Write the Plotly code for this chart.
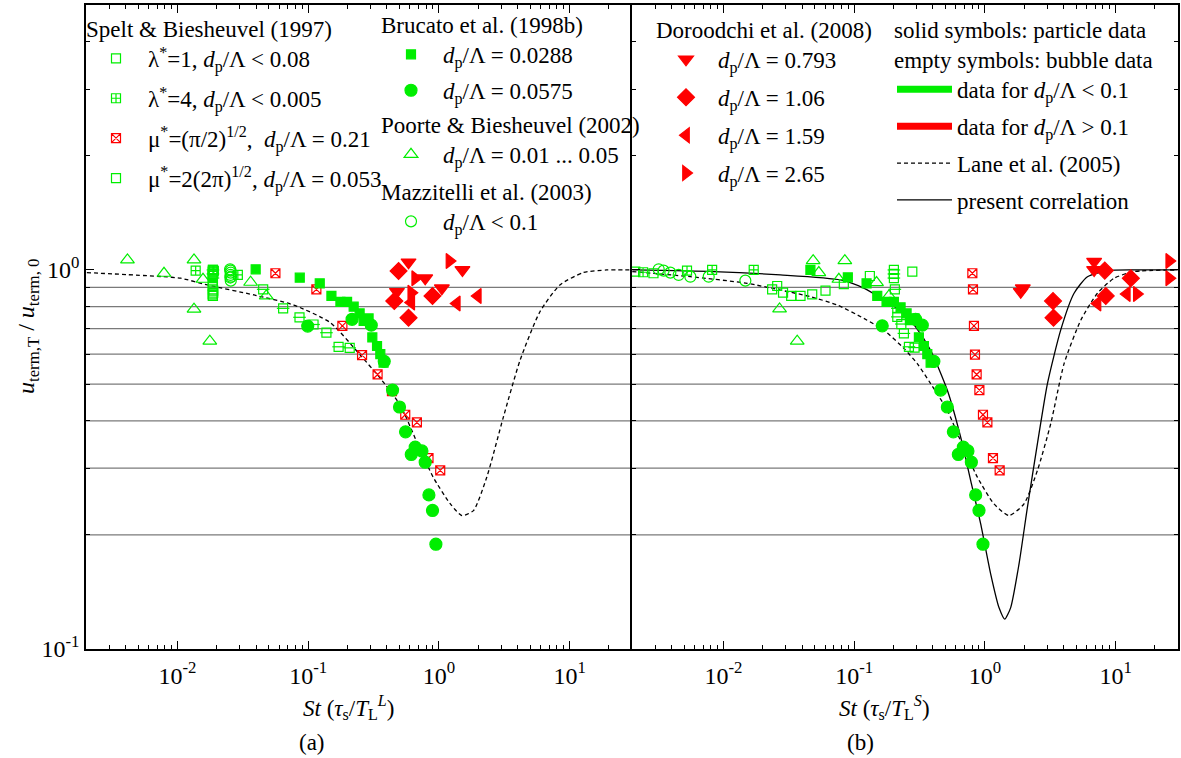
import math
import plotly.graph_objects as go

FONT = "Liberation Serif"
GREEN = "#00ee00"
RED = "#ff0000"

# ---------------- data : panel (a), St = tau_s / T_L^L ----------------
spelt_lam1_a_st = [0.0186, 0.0188, 0.0187, 0.0186, 0.0188, 0.0187, 0.0187, 0.0186, 0.0188, 0.0187, 0.0186, 0.0188]
spelt_lam1_a_u = [0.990, 0.980, 0.889, 0.907, 0.871, 0.854, 0.854, 0.862, 0.882, 0.918, 0.964, 0.990]
spelt_lam4_a_st = [0.0138, 0.0187, 0.0190, 0.0290]
spelt_lam4_a_u = [0.996, 1.000, 0.995, 0.970]
spelt_mu1_a_st = [0.0562, 0.1156, 0.1828, 0.2585, 0.3398, 0.4377, 0.553, 0.679, 0.833, 1.024]
spelt_mu1_a_u = [0.980, 0.889, 0.712, 0.596, 0.530, 0.479, 0.415, 0.396, 0.319, 0.296]
spelt_mu2_a_st = [0.0187, 0.0187, 0.0187, 0.0453, 0.0644, 0.0859, 0.110, 0.138, 0.171, 0.208]
spelt_mu2_a_u = [1.000, 0.976, 0.952, 0.889, 0.792, 0.750, 0.718, 0.683, 0.627, 0.623]
brucato1_a_st = [0.0397, 0.0863, 0.1227, 0.1507, 0.1766, 0.1986, 0.2230, 0.2477, 0.2657, 0.290, 0.3097, 0.3365, 0.3565, 0.3776]
brucato1_a_u = [1.004, 0.954, 0.922, 0.854, 0.824, 0.824, 0.800, 0.768, 0.734, 0.745, 0.664, 0.630, 0.600, 0.569]
brucato2_a_st = [0.0993, 0.2168, 0.304, 0.382, 0.4424, 0.500, 0.556, 0.659, 0.615, 0.742, 0.786, 0.839, 0.894, 0.949]
brucato2_a_u = [0.711, 0.741, 0.715, 0.574, 0.482, 0.435, 0.374, 0.341, 0.326, 0.333, 0.311, 0.255, 0.232, 0.189]
poorte_a_st = [0.00415, 0.0134, 0.0079, 0.0157, 0.0363, 0.0478, 0.0134, 0.0177]
poorte_a_u = [1.063, 1.063, 0.980, 0.945, 0.928, 0.854, 0.788, 0.649]
mazz_a_st = [0.0253, 0.0255, 0.0256, 0.0255, 0.0257, 0.0254, 0.0256]
mazz_a_u = [1.004, 0.996, 0.984, 0.970, 0.960, 0.955, 0.937]
dor1_a_st = [0.586, 0.478, 1.514, 1.054, 0.786]
dor1_a_u = [1.048, 0.876, 1.000, 0.895, 0.951]
dor2_a_st = [0.492, 0.456, 0.894, 0.586]
dor2_a_u = [0.994, 0.828, 0.854, 0.748]
dor3_a_st = [0.615, 1.371, 1.985]
dor3_a_u = [0.820, 0.816, 0.854]
dor4_a_st = [0.659, 0.615, 1.205]
dor4_a_u = [0.951, 0.871, 1.056]
lane_a_st = [0.00203, 0.00786, 0.0106, 0.01695, 0.0385, 0.0777, 0.148, 0.2506, 0.356, 0.507, 0.679, 0.905,
             1.220, 1.50, 1.837, 2.324, 3.113, 4.18, 5.93, 8.43, 12.7, 19.2, 29.7]
lane_a_u = [0.984, 0.960, 0.951, 0.913, 0.859, 0.808, 0.726, 0.596, 0.518, 0.4395, 0.3514, 0.2839,
            0.2418, 0.2249, 0.2318, 0.2839, 0.409, 0.578, 0.776, 0.913, 0.984, 1.0, 1.0]

# ---------------- data : panel (b), St = tau_s / T_L^S ----------------
spelt_lam1_b_st = [0.00212, 0.00292, 0.0236, 0.0258, 0.0286, 0.033, 0.0389, 0.0478, 0.0604, 0.0834, 0.1319, 0.2786]
spelt_lam1_b_u = [0.990, 0.980, 0.889, 0.907, 0.871, 0.854, 0.854, 0.862, 0.882, 0.918, 0.964, 0.990]
spelt_lam4_b_st = [0.00243, 0.00527, 0.0082, 0.01706]
spelt_lam4_b_u = [0.986, 0.996, 1.000, 1.000]
spelt_mu1_b_st = [0.802, 0.811, 0.825, 0.840, 0.865, 0.908, 0.967, 1.045, 1.153, 1.298]
spelt_mu1_b_u = [0.980, 0.889, 0.712, 0.598, 0.530, 0.482, 0.415, 0.396, 0.319, 0.296]
spelt_mu2_b_st = [0.2014, 0.2014, 0.2014, 0.2049, 0.2138, 0.2138, 0.2296, 0.2402, 0.2625, 0.290]
spelt_mu2_b_u = [1.000, 0.976, 0.952, 0.889, 0.792, 0.752, 0.720, 0.680, 0.627, 0.624]
brucato1_b_st = [0.0463, 0.0895, 0.1245, 0.1503, 0.177, 0.2014, 0.2266, 0.2519, 0.267, 0.290, 0.3129, 0.3418, 0.3628, 0.3846]
brucato1_b_u = [1.000, 0.956, 0.922, 0.854, 0.824, 0.824, 0.797, 0.768, 0.737, 0.745, 0.664, 0.630, 0.600, 0.569]
brucato2_b_st = [0.164, 0.295, 0.3322, 0.4074, 0.4587, 0.5164, 0.574, 0.6844, 0.6267, 0.7423, 0.788, 0.8502, 0.9015, 0.967]
brucato2_b_u = [0.712, 0.741, 0.715, 0.574, 0.482, 0.435, 0.374, 0.341, 0.326, 0.333, 0.311, 0.255, 0.232, 0.189]
poorte_b_st = [0.0486, 0.0537, 0.0849, 0.0764, 0.1484, 0.1845, 0.0269, 0.0367]
poorte_b_u = [1.058, 0.984, 1.058, 0.945, 0.926, 0.854, 0.789, 0.649]
mazz_b_st = [0.0032, 0.00349, 0.00393, 0.00455, 0.00559, 0.00772, 0.01472]
mazz_b_u = [1.004, 0.996, 0.984, 0.970, 0.960, 0.960, 0.937]
dor1_b_st = [1.88, 1.95, 6.85, 6.85]
dor1_b_u = [0.876, 0.895, 1.052, 1.000]
dor2_b_st = [3.32, 3.35, 8.26, 8.41, 13.07]
dor2_b_u = [0.828, 0.748, 0.996, 0.854, 0.951]
dor3_b_st = [7.27, 12.18]
dor3_b_u = [0.816, 0.864]
dor4_b_st = [25.7, 25.7, 14.53]
dor4_b_u = [1.056, 0.951, 0.864]
lane_b_st = [0.00201, 0.00559, 0.01517, 0.0273, 0.0463, 0.0743, 0.1187, 0.1687, 0.2403, 0.304, 0.3846, 0.5164,
             0.634, 0.876, 1.174, 1.530, 1.993, 2.523, 3.19, 4.035, 5.414, 7.26, 9.74, 13.86, 29.8]
lane_b_u = [0.990, 0.960, 0.922, 0.885, 0.850, 0.808, 0.745, 0.694, 0.621, 0.566, 0.5015, 0.426,
            0.362, 0.284, 0.2415, 0.2249, 0.2415, 0.2958, 0.393, 0.566, 0.737, 0.868, 0.951, 0.990, 1.0]
correl_b_st = [0.00201, 0.00843, 0.0273, 0.0787, 0.1187, 0.1687, 0.2403, 0.2952, 0.3846, 0.5164, 0.6529, 0.779,
               0.929, 1.108, 1.282, 1.418, 1.576, 1.824, 2.115, 2.523, 3.01, 3.80, 4.81, 6.09, 8.67, 13.86, 29.8]
correl_b_u = [1.0, 0.990, 0.970, 0.941, 0.895, 0.833, 0.768, 0.708, 0.614, 0.4815, 0.3622, 0.278,
              0.2138, 0.1576, 0.1286, 0.1199, 0.1286, 0.1675, 0.2365, 0.348, 0.5015, 0.694, 0.868, 0.960, 0.996, 1.0, 1.0]

grid_levels = [0.2, 0.3, 0.4, 0.5, 0.6, 0.7, 0.8, 0.9]
x_tickvals = [0.01, 0.1, 1, 10]
x_ticktext = ["10<sup>-2</sup>", "10<sup>-1</sup>", "10<sup>0</sup>", "10<sup>1</sup>"]
y_tickvals = [0.1, 1]
y_ticktext = ["10<sup>-1</sup>", "10<sup>0</sup>"]

DP = "<i>d</i><sub>p</sub>/Λ"

fig = go.Figure()


def curve(x, y, xa, ya, dash, name=None, legend=None, show=False, group=None, rank=1000):
    fig.add_trace(go.Scatter(x=x, y=y, xaxis=xa, yaxis=ya, mode="lines",
                             line=dict(color="black", width=1.3, dash=dash, shape="spline", smoothing=0.6),
                             name=name, legend=legend, legendgroup=group, showlegend=show,
                             legendrank=rank))


def pts(x, y, xa, ya, symbol, size, color, name=None, legend=None, group=None, show=False, lw=1.2):
    fig.add_trace(go.Scatter(x=x, y=y, xaxis=xa, yaxis=ya, mode="markers",
                             marker=dict(symbol=symbol, size=size, color=color,
                                         line=dict(color=color, width=lw)),
                             name=name, legend=legend, legendgroup=group, showlegend=show))


# model curves
curve(lane_a_st, lane_a_u, "x", "y", "4px,3px", "Lane et al. (2005)", "legend6", True, "lane", 3)
curve(lane_b_st, lane_b_u, "x2", "y2", "4px,3px", group="lane")
curve(correl_b_st, correl_b_u, "x2", "y2", "solid", "present correlation", "legend6", True, "corr", 4)

# legend-only colour keys
fig.add_trace(go.Scatter(x=[None], y=[None], mode="lines", line=dict(color=GREEN, width=7),
                         name="data for " + DP + " &lt; 0.1", legend="legend6", legendgroup="g1",
                         legendrank=1))
fig.add_trace(go.Scatter(x=[None], y=[None], mode="lines", line=dict(color=RED, width=7),
                         name="data for " + DP + " &gt; 0.1", legend="legend6", legendgroup="g2",
                         legendrank=2))

panels = [("x", "y", True), ("x2", "y2", False)]
datasets = [
    (spelt_lam1_a_st, spelt_lam1_a_u, spelt_lam1_b_st, spelt_lam1_b_u, "square-open", 9, GREEN,
     "λ<sup>*</sup>=1, " + DP + " &lt; 0.08", "legend", "s1"),
    (spelt_lam4_a_st, spelt_lam4_a_u, spelt_lam4_b_st, spelt_lam4_b_u, "square-cross-open", 9, GREEN,
     "λ<sup>*</sup>=4, " + DP + " &lt; 0.005", "legend", "s2"),
    (spelt_mu1_a_st, spelt_mu1_a_u, spelt_mu1_b_st, spelt_mu1_b_u, "square-x-open", 9, RED,
     "μ<sup>*</sup>=(π/2)<sup>1/2</sup>,  " + DP + " = 0.21", "legend", "s3"),
    (spelt_mu2_a_st, spelt_mu2_a_u, spelt_mu2_b_st, spelt_mu2_b_u, "square-open", 9, GREEN,
     "μ<sup>*</sup>=2(2π)<sup>1/2</sup>, " + DP + " = 0.053", "legend", "s4"),
    (brucato1_a_st, brucato1_a_u, brucato1_b_st, brucato1_b_u, "square", 9, GREEN,
     DP + " = 0.0288", "legend2", "b1"),
    (brucato2_a_st, brucato2_a_u, brucato2_b_st, brucato2_b_u, "circle", 12, GREEN,
     DP + " = 0.0575", "legend2", "b2"),
    (poorte_a_st, poorte_a_u, poorte_b_st, poorte_b_u, "triangle-up-open", 12, GREEN,
     DP + " = 0.01 ... 0.05", "legend3", "p1"),
    (mazz_a_st, mazz_a_u, mazz_b_st, mazz_b_u, "circle-open", 11, GREEN,
     DP + " &lt; 0.1", "legend4", "m1"),
    (dor1_a_st, dor1_a_u, dor1_b_st, dor1_b_u, "triangle-down", 13, RED,
     DP + " = 0.793", "legend5", "d1"),
    (dor2_a_st, dor2_a_u, dor2_b_st, dor2_b_u, "diamond", 13, RED,
     DP + " = 1.06", "legend5", "d2"),
    (dor3_a_st, dor3_a_u, dor3_b_st, dor3_b_u, "triangle-left", 13, RED,
     DP + " = 1.59", "legend5", "d3"),
    (dor4_a_st, dor4_a_u, dor4_b_st, dor4_b_u, "triangle-right", 13, RED,
     DP + " = 2.65", "legend5", "d4"),
]
for ax_, ay_, bx_, by_, sym, size, col, name, leg, grp in datasets:
    for (xa, ya, first), (xs, ys) in zip(panels, [(ax_, ay_), (bx_, by_)]):
        pts(xs, ys, xa, ya, sym, size, col, name, leg, grp, first)
        if grp == "s4":  # horizontal bar inside the square
            pts(xs, ys, xa, ya, "line-ew", 9, col, None, leg, grp, False)

# horizontal reference lines
shapes = []
for lev in grid_levels:
    for xr, yr in [("x domain", "y"), ("x2 domain", "y2")]:
        shapes.append(dict(type="line", xref=xr, yref=yr, x0=0, x1=1, y0=lev, y1=lev,
                           line=dict(color="#7a7a7a", width=1.3), layer="below"))

W, H = 1181, 758
xa_dom = [86 / W, 632 / W]
xb_dom = [632 / W, 1178 / W]
y_dom = [1 - 649 / H, 1 - 5 / H]

axis_common = dict(type="log", showline=True, linecolor="black", linewidth=1.5, mirror="ticks",
                   ticks="inside", ticklen=8, tickwidth=1.2, tickcolor="black", showgrid=False,
                   zeroline=False, tickfont=dict(family=FONT, size=24, color="black"),
                   minor=dict(dtick="D1", ticks="inside", ticklen=4, tickwidth=1, tickcolor="black",
                              showgrid=False),
                   automargin=False)

fig.update_layout(
    width=W, height=H, margin=dict(l=0, r=0, t=0, b=0),
    paper_bgcolor="white", plot_bgcolor="white",
    font=dict(family=FONT, size=23, color="black"),
    shapes=shapes,
    xaxis=dict(axis_common, domain=xa_dom, anchor="y", range=[math.log10(0.002), math.log10(30)],
               tickmode="array", tickvals=x_tickvals, ticktext=x_ticktext, ticklabelstandoff=4),
    xaxis2=dict(axis_common, domain=xb_dom, anchor="y2", range=[math.log10(0.002), math.log10(30)],
                tickmode="array", tickvals=x_tickvals, ticktext=x_ticktext, ticklabelstandoff=4),
    yaxis=dict(axis_common, domain=y_dom, anchor="x", range=[-1, math.log10(5)], mirror=False,
               tickmode="array", tickvals=y_tickvals, ticktext=y_ticktext),
    yaxis2=dict(axis_common, domain=y_dom, anchor="x2", range=[-1, math.log10(5)],
                tickmode="array", tickvals=y_tickvals, ticktext=y_ticktext, showticklabels=False),
    showlegend=True,
)

leg_common = dict(bgcolor="rgba(0,0,0,0)", borderwidth=0, xanchor="left", yanchor="top",
                  font=dict(family=FONT, size=23, color="black"), itemwidth=54,
                  title_font=dict(family=FONT, size=23, color="black"), traceorder="grouped")
fig.update_layout(
    legend=dict(leg_common, x=84 / W, y=1 - 7 / H, title_text="Spelt &amp; Biesheuvel (1997)", tracegroupgap=7),
    legend2=dict(leg_common, x=379 / W, y=1 - 3 / H, title_text="Brucato et al. (1998b)", tracegroupgap=3),
    legend3=dict(leg_common, x=379 / W, y=1 - 103 / H, title_text="Poorte &amp; Biesheuvel (2002)", tracegroupgap=3),
    legend4=dict(leg_common, x=379 / W, y=1 - 170 / H, title_text="Mazzitelli et al. (2003)", tracegroupgap=3),
    legend5=dict(leg_common, x=654 / W, y=1 - 8 / H, title_text="Doroodchi et al. (2008)", tracegroupgap=5),
    legend6=dict(leg_common, x=892 / W, y=1 - 8 / H, itemwidth=55,
                 title_text="solid symbols: particle data<br>empty symbols: bubble data", tracegroupgap=4),
)

ann = [
    dict(text="<i>u</i><sub>term,T</sub> / <i>u</i><sub>term, 0</sub>", x=28 / W, y=1 - 327 / H,
         textangle=-90, font=dict(size=24)),
    dict(text="<i>St</i> (<i>τ</i><sub>s</sub>/<i>T</i><sub>L</sub><sup><i>L</i></sup>)", x=348 / W, y=1 - 707 / H),
    dict(text="<i>St</i> (<i>τ</i><sub>s</sub>/<i>T</i><sub>L</sub><sup><i>S</i></sup>)", x=884 / W, y=1 - 707 / H),
    dict(text="(a)", x=312 / W, y=1 - 742 / H),
    dict(text="(b)", x=860 / W, y=1 - 742 / H),
]
for a in ann:
    a.update(xref="paper", yref="paper", showarrow=False, xanchor="center", yanchor="middle")
    a.setdefault("font", {})
    a["font"] = dict(dict(family=FONT, size=23, color="black"), **a["font"])
fig.update_layout(annotations=ann)

fig.write_html("out.html")
